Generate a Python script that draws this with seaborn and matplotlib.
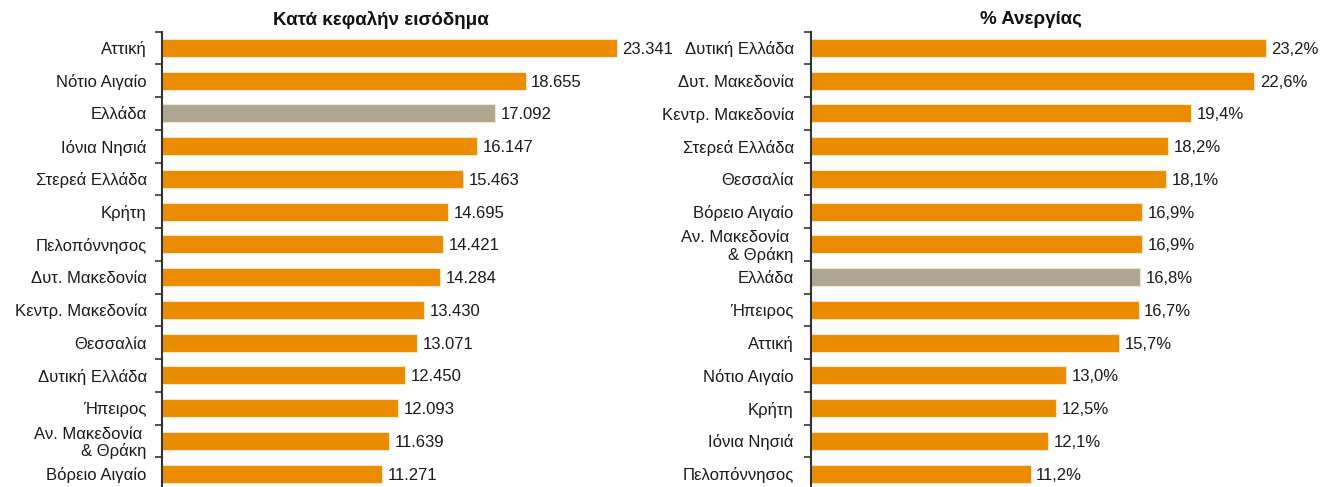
import numpy as np
import pandas as pd
import matplotlib
matplotlib.use("Agg")
import matplotlib.pyplot as plt
import seaborn as sns

sns.set_style("white")
plt.rcParams['font.family'] = ['Liberation Sans', 'DejaVu Sans']

# Data
income_regions = ["Αττική", "Νότιο Αιγαίο", "Ελλάδα", "Ιόνια Νησιά", "Στερεά Ελλάδα",
                  "Κρήτη", "Πελοπόννησος", "Δυτ. Μακεδονία", "Κεντρ. Μακεδονία",
                  "Θεσσαλία", "Δυτική Ελλάδα", "Ήπειρος", "Αν. Μακεδονία \n& Θράκη",
                  "Βόρειο Αιγαίο"]
income_values = [23341, 18655, 17092, 16147, 15463, 14695, 14421, 14284, 13430,
                 13071, 12450, 12093, 11639, 11271]

unemp_regions = ["Δυτική Ελλάδα", "Δυτ. Μακεδονία", "Κεντρ. Μακεδονία", "Στερεά Ελλάδα",
                 "Θεσσαλία", "Βόρειο Αιγαίο", "Αν. Μακεδονία \n& Θράκη", "Ελλάδα",
                 "Ήπειρος", "Αττική", "Νότιο Αιγαίο", "Κρήτη", "Ιόνια Νησιά",
                 "Πελοπόννησος"]
unemp_values = [23.2, 22.6, 19.4, 18.2, 18.1, 16.9, 16.9, 16.8, 16.7, 15.7, 13.0,
                12.5, 12.1, 11.2]

titles = ["Κατά κεφαλήν εισόδημα", "% Ανεργίας"]

ORANGE = "#EB8C00"
GREY = "#ADA692"

W, H = 1332, 487
fig = plt.figure(figsize=(W / 100, H / 100), dpi=100)

top = 1 - 31.6 / H
bottom = 1 - 490.0 / H
ax_w = 500 / W
ax1 = fig.add_axes([162 / W, bottom, ax_w, top - bottom])
ax2 = fig.add_axes([811 / W, bottom, ax_w, top - bottom])


def fmt_income(v):
    return f"{int(round(v)):,}".replace(",", ".")


def fmt_unemp(v):
    return f"{v:.1f}".replace(".", ",") + "%"


def draw(ax, regions, values, xmax, fmt, pad):
    df = pd.DataFrame({"region": regions, "value": values})
    df["kind"] = np.where(df["region"] == "Ελλάδα", "gr", "reg")
    sns.barplot(data=df, y="region", x="value", hue="kind",
                palette={"gr": GREY, "reg": ORANGE}, order=regions,
                orient="h", width=0.55, legend=False, ax=ax,
                edgecolor="#FBE3C4", linewidth=0.8, saturation=1)
    for c in ax.containers:
        labels = [fmt(v) if not np.isnan(v) else "" for v in c.datavalues]
        texts = ax.bar_label(c, labels=labels, padding=4, fontsize=12,
                             color="#1a1a1a")
        for t in texts:
            t.set_va("center_baseline")
    n = len(regions)
    ax.set_xlim(0, xmax)
    ax.set_ylim(n - 0.5, -0.5)
    ax.set_yticks(range(n))
    ax.set_yticklabels(regions, fontsize=12, color="#1a1a1a", ha="right",
                       multialignment="right", linespacing=1.1)
    ax.set_yticks(np.arange(-0.5, n), minor=True)
    ax.tick_params(axis="y", which="major", length=0, pad=pad)
    ax.tick_params(axis="y", which="minor", length=5, width=1.2, color="#333333",
                   direction="out", left=True)
    ax.set_xticks([])
    ax.set_xlabel("")
    ax.set_ylabel("")
    for s in ["top", "right", "bottom"]:
        ax.spines[s].set_visible(False)
    ax.spines["left"].set_color("#333333")
    ax.spines["left"].set_linewidth(1.5)


draw(ax1, income_regions, income_values, 23341 * 500 / 455, fmt_income, 11)
draw(ax2, unemp_regions, unemp_values, 23.2 * 500 / 455, fmt_unemp, 12.5)

fig.text(381 / W, 1 - 20 / H, titles[0], ha="center", va="center",
         fontsize=13.5, fontweight="bold", color="#111111")
fig.text(1031 / W, 1 - 20 / H, titles[1], ha="center", va="center",
         fontsize=13.5, fontweight="bold", color="#111111")

fig.savefig("out.png", dpi=100)
